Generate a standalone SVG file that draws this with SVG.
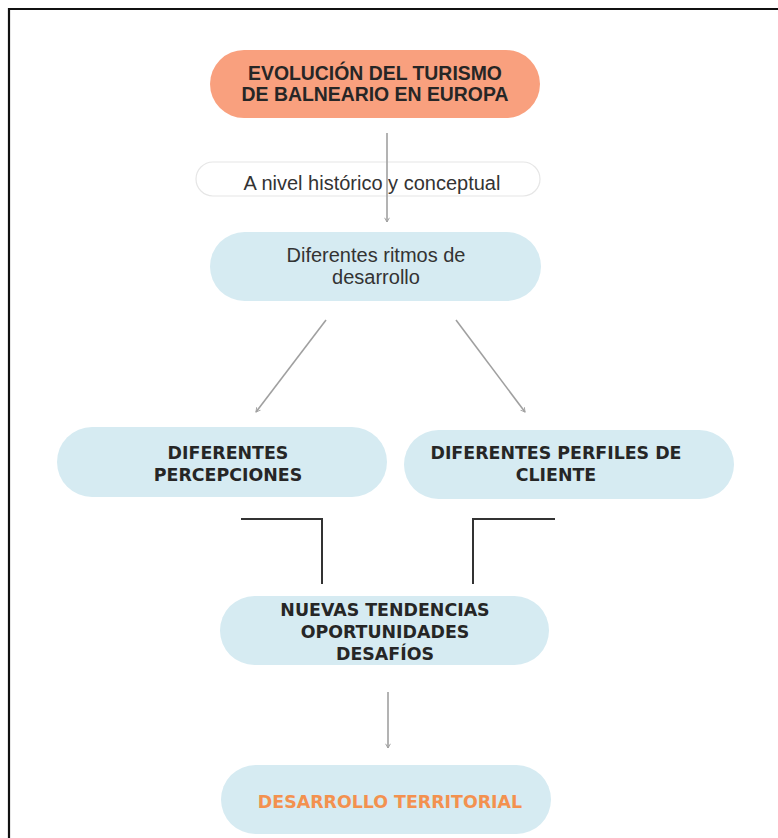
<svg xmlns="http://www.w3.org/2000/svg" width="778" height="838" viewBox="0 0 778 838">
<style>
.blue{fill:#D6EBF2}
.t{text-anchor:middle;fill:#262626}
.b{font-family:"DejaVu Sans","Liberation Sans",sans-serif;font-weight:bold;font-size:17.4px}
.h{font-family:"Liberation Sans",Arial,sans-serif;font-weight:bold;font-size:19.4px}
.r{font-family:"Liberation Sans",Arial,sans-serif;font-size:20px;fill:#333}
.conn{stroke:#A0A0A0;stroke-width:1.6;fill:none}
.elbow{stroke:#333;stroke-width:2;fill:none}
</style>
<defs>
<marker id="ah" viewBox="0 0 10 10" refX="8" refY="5" markerWidth="6" markerHeight="6" orient="auto" markerUnits="userSpaceOnUse">
<path d="M1,1 L8,5 L1,9" fill="none" stroke="#A0A0A0" stroke-width="1.6"/>
</marker>
</defs>
<rect width="778" height="838" fill="#fff"/>
<path d="M9,838 V9 H778" fill="none" stroke="#111" stroke-width="2.2"/>

<g id="n-top">
<rect x="210" y="50" width="330" height="68" rx="34" fill="#F9A07E"/>
<text class="t h" x="375" y="80">EVOLUCIÓN DEL TURISMO</text>
<text class="t h" x="375" y="101">DE BALNEARIO EN EUROPA</text>
</g>

<g id="n-label">
<rect x="196" y="162" width="344" height="34" rx="17" fill="#fff" stroke="#E6E6E6" stroke-width="1.2"/>
<text class="t r" x="372" y="190">A nivel histórico y conceptual</text>
</g>

<g id="n-ritmos">
<rect x="210" y="232" width="331" height="69" rx="34.5" class="blue"/>
<text class="t r" x="376" y="262">Diferentes ritmos de</text>
<text class="t r" x="376" y="284">desarrollo</text>
</g>

<g id="n-percepciones">
<rect x="57" y="427" width="330" height="70" rx="35" class="blue"/>
<text class="t b" x="228" y="459">DIFERENTES</text>
<text class="t b" x="228" y="481">PERCEPCIONES</text>
</g>

<g id="n-perfiles">
<rect x="404" y="430" width="330" height="69" rx="34.5" class="blue"/>
<text class="t b" x="556" y="459">DIFERENTES PERFILES DE</text>
<text class="t b" x="556" y="481">CLIENTE</text>
</g>

<g id="n-nuevas">
<rect x="220" y="596" width="329" height="69" rx="34.5" class="blue"/>
<text class="t b" x="385" y="616">NUEVAS TENDENCIAS</text>
<text class="t b" x="385" y="638">OPORTUNIDADES</text>
<text class="t b" x="385" y="660">DESAFÍOS</text>
</g>

<g id="n-desarrollo">
<rect x="221" y="765" width="330" height="69" rx="34.5" class="blue"/>
<text class="t b" x="390" y="808" style="fill:#F3914F">DESARROLLO TERRITORIAL</text>
</g>

<g id="connectors">
<line class="conn" x1="387" y1="133" x2="387" y2="222" marker-end="url(#ah)"/>
<line class="conn" x1="326" y1="320" x2="256" y2="412" marker-end="url(#ah)"/>
<line class="conn" x1="456" y1="320" x2="525" y2="412" marker-end="url(#ah)"/>
<line class="conn" x1="388" y1="692" x2="388" y2="748" marker-end="url(#ah)"/>
<path class="elbow" d="M241,519 H322 V584"/>
<path class="elbow" d="M555,519 H473 V584"/>
</g>
</svg>
